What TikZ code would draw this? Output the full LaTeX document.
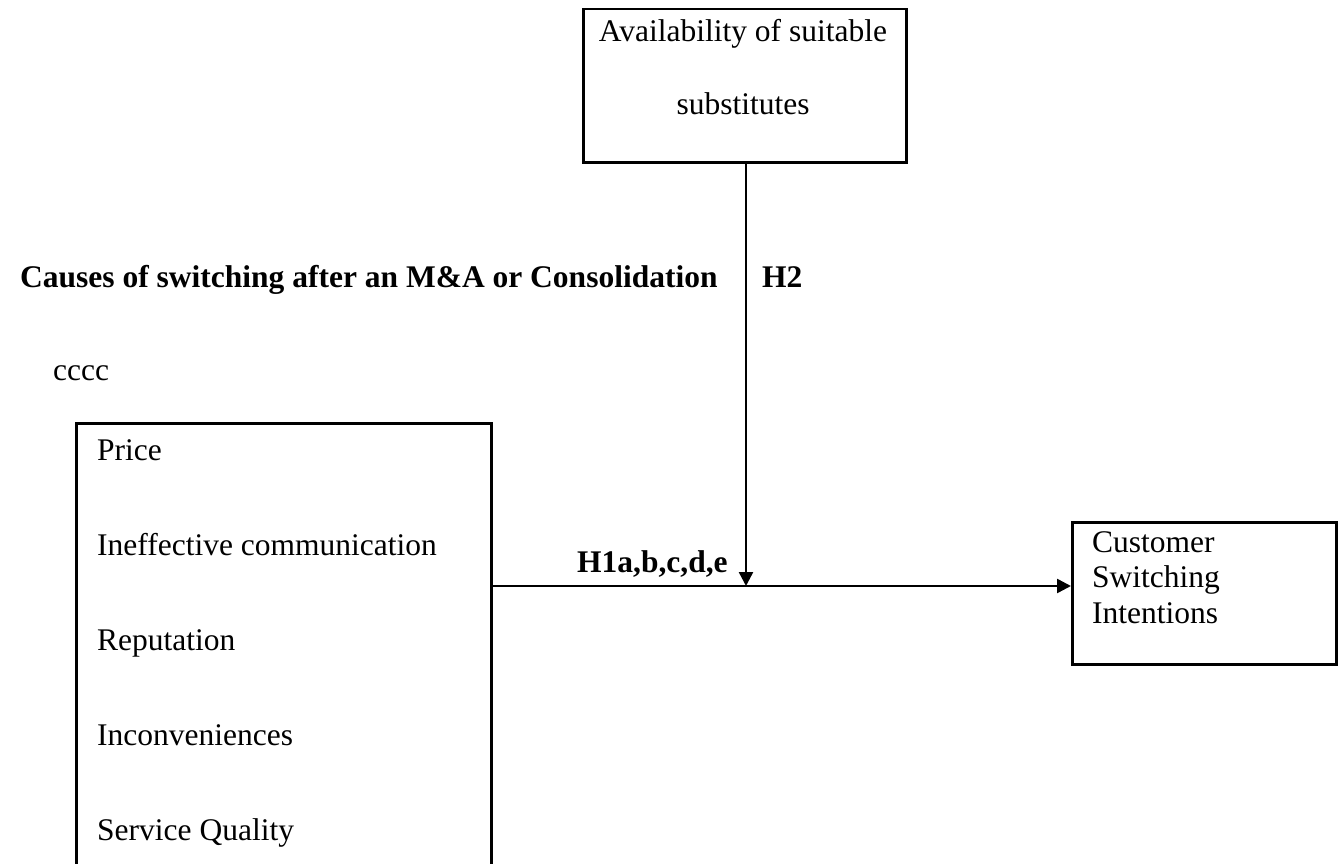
\documentclass[tikz,border=0pt]{standalone}
\usepackage{fontspec}
\setmainfont{Liberation Serif}
\usetikzlibrary{arrows.meta}
\begin{document}
\begin{tikzpicture}[x=1pt,y=-1pt,
  box/.style={draw,line width=2.5pt,inner sep=0pt,anchor=north west},
  txt/.style={inner sep=0pt,anchor=base west,font=\fontsize{31.5}{36}\selectfont},
  btxt/.style={txt,font=\fontsize{31.5}{36}\selectfont\bfseries},
  link/.style={line width=2.5pt,-{Triangle[length=14pt,width=14pt]}}]
\useasboundingbox (0,0) rectangle (1341,864);

% boxes
\node[box,minimum width=323pt,minimum height=153pt] (avail) at (582,8) {};
\node[box,minimum width=415pt,minimum height=470pt] (causes) at (75,422) {};
\node[box,minimum width=264pt,minimum height=142pt] (cust) at (1071,521) {};

% connectors
\coordinate (meet) at (746,586);
\draw[link] (avail.south -| meet) -- (meet);
\draw[link] (causes.east |- meet) -- (cust.west |- meet);

% moderator box text
\node[txt,anchor=base] (avail1) at (743,42) {Availability of suitable};
\node[txt,anchor=base] (avail2) at (743,115) {substitutes};

% headings and hypothesis labels
\node[btxt] (head) at (20,287) {Causes of switching after an M\&A or Consolidation};
\node[btxt] (h2) at (762,287) {H2};
\node[txt] (cc) at (53,380) {cccc};
\node[btxt] (h1) at (577,572) {H1a,b,c,d,e};

% causes
\node[txt] (c1) at (97,460) {Price};
\node[txt] (c2) at (97,555) {Ineffective communication};
\node[txt] (c3) at (97,650) {Reputation};
\node[txt] (c4) at (97,745) {Inconveniences};
\node[txt] (c5) at (97,840) {Service Quality};

% outcome
\node[txt] (o1) at (1092,552) {Customer};
\node[txt] (o2) at (1092,587) {Switching};
\node[txt] (o3) at (1092,623) {Intentions};
\end{tikzpicture}
\end{document}
